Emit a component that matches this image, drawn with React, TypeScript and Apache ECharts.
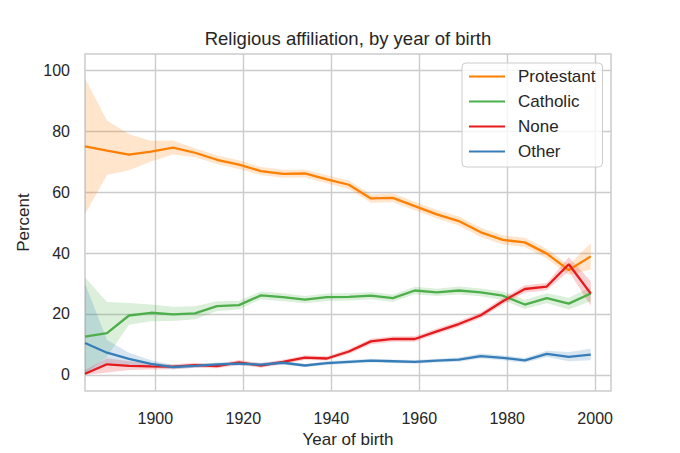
import { useEffect, useRef } from 'react'
import * as echarts from 'echarts'

const years = [1884, 1889, 1894, 1899, 1904, 1909, 1914, 1919, 1924, 1929, 1934, 1939, 1944, 1949, 1954, 1959, 1964, 1969, 1974, 1979, 1984, 1989, 1994, 1999]

const protestant = [75.0, 73.6, 72.3, 73.3, 74.6, 72.9, 70.6, 69.0, 66.9, 66.0, 66.1, 64.2, 62.4, 57.9, 58.1, 55.4, 52.7, 50.5, 46.8, 44.3, 43.5, 39.8, 34.4, 38.9]
const protestantLow = [52.7, 65.6, 67.2, 70.0, 72.3, 71.4, 69.2, 67.6, 65.6, 64.7, 64.8, 62.9, 61.0, 56.5, 56.7, 54.0, 51.3, 49.0, 45.3, 42.8, 42.0, 38.2, 32.8, 34.6]
const protestantHigh = [97.3, 83.5, 79.0, 76.8, 76.9, 74.4, 72.0, 70.4, 68.2, 67.3, 67.4, 65.5, 63.8, 59.3, 59.5, 56.8, 54.1, 52.0, 48.3, 45.8, 45.0, 41.4, 36.1, 43.2]

const catholic = [12.6, 13.7, 19.5, 20.4, 19.9, 20.2, 22.6, 22.9, 26.1, 25.5, 24.7, 25.5, 25.6, 26.0, 25.2, 27.7, 27.1, 27.7, 27.1, 26.0, 23.1, 25.2, 23.4, 26.7]
const catholicLow = [0.5, 6.0, 16.5, 17.6, 17.7, 18.3, 21.0, 21.5, 24.8, 24.2, 23.5, 24.3, 24.4, 24.8, 24.0, 26.5, 25.9, 26.4, 25.8, 24.6, 21.6, 23.5, 21.5, 24.2]
const catholicHigh = [32.0, 23.9, 23.6, 23.1, 22.4, 22.5, 24.2, 24.3, 27.4, 26.8, 25.9, 26.7, 26.8, 27.2, 26.4, 28.9, 28.3, 29.0, 28.4, 27.4, 24.7, 26.8, 25.3, 28.8]

const none = [0.4, 3.5, 3.0, 2.8, 2.7, 3.2, 2.9, 4.1, 3.1, 4.3, 5.7, 5.4, 7.7, 11.0, 11.8, 11.8, 14.3, 16.7, 19.6, 24.2, 28.2, 29.0, 36.3, 26.7]
const noneLow = [0.0, 0.8, 1.6, 1.8, 1.9, 2.4, 2.2, 3.3, 2.4, 3.6, 4.9, 4.7, 6.9, 10.1, 10.9, 10.9, 13.4, 15.8, 18.6, 23.1, 27.0, 27.8, 34.0, 22.7]
const noneHigh = [1.6, 5.5, 4.5, 3.8, 3.5, 4.0, 3.6, 4.9, 3.8, 5.0, 6.5, 6.1, 8.5, 11.9, 12.7, 12.7, 15.2, 17.6, 20.6, 25.3, 29.4, 30.2, 38.6, 30.7]

const other = [10.5, 7.3, 5.3, 3.6, 2.6, 3.0, 3.5, 3.7, 3.4, 4.0, 3.1, 3.9, 4.3, 4.7, 4.5, 4.3, 4.7, 5.0, 6.2, 5.6, 4.8, 6.9, 5.9, 6.7]
const otherLow = [0.0, 3.5, 3.2, 2.5, 1.9, 2.4, 2.9, 3.1, 2.8, 3.4, 2.6, 3.3, 3.7, 4.1, 3.9, 3.7, 4.1, 4.3, 5.4, 4.8, 4.0, 5.9, 4.5, 4.8]
const otherHigh = [30.0, 11.5, 7.3, 4.8, 3.3, 3.6, 4.1, 4.3, 4.0, 4.6, 3.6, 4.5, 4.9, 5.3, 5.1, 4.9, 5.3, 5.7, 7.0, 6.4, 5.6, 7.9, 7.5, 8.6]

const xTicks = [1900, 1920, 1940, 1960, 1980, 2000]
const yTicks = [0, 20, 40, 60, 80, 100]

const groups = [
  { name: 'Protestant', color: '#ff7f00', mid: protestant, low: protestantLow, high: protestantHigh },
  { name: 'Catholic', color: '#4daf4a', mid: catholic, low: catholicLow, high: catholicHigh },
  { name: 'None', color: '#e41a1c', mid: none, low: noneLow, high: noneHigh },
  { name: 'Other', color: '#377eb8', mid: other, low: otherLow, high: otherHigh },
]

const FONT = "'Liberation Sans', Arial, sans-serif"
const TEXT = '#262626'
const GRID = '#cccccc'

const App = () => {
  const chartRef = useRef<HTMLDivElement>(null)

  useEffect(() => {
    if (!chartRef.current) return
    const chart = echarts.init(chartRef.current, undefined, { renderer: 'svg' })

    const series: any[] = []
    // 置信区间带（多边形，坐标由坐标轴换算）
    groups.forEach((g) => {
      series.push({
        name: g.name + ' band',
        type: 'custom',
        silent: true,
        z: 1,
        data: [[years[0], g.mid[0]]],
        encode: { x: 0, y: 1 },
        renderItem: (_params: any, api: any) => {
          const upper = years.map((y, i) => api.coord([y, g.high[i]]))
          const lower = years.map((y, i) => api.coord([y, g.low[i]])).reverse()
          return {
            type: 'polygon',
            shape: { points: upper.concat(lower) },
            style: { fill: g.color, opacity: 0.2 },
          }
        },
      })
    })
    groups.forEach((g) => {
      series.push({
        name: g.name,
        type: 'line',
        symbol: 'none',
        color: g.color,
        lineStyle: { color: g.color, width: 2.3 },
        data: years.map((y, i) => [y, g.mid[i]]),
        z: 3,
      })
    })

    chart.setOption({
      animation: false,
      textStyle: { fontFamily: FONT },
      grid: { left: 85, right: 69, top: 54, bottom: 57, show: true, borderColor: GRID, borderWidth: 1.5 },
      graphic: [
        {
          type: 'text',
          x: 348,
          y: 29,
          style: {
            text: 'Religious affiliation, by year of birth',
            fontSize: 18.5,
            fontFamily: FONT,
            fill: TEXT,
            textAlign: 'center',
            textVerticalAlign: 'top',
          },
        },
      ],
      legend: {
        data: groups.map((g) => g.name),
        orient: 'vertical',
        left: 462,
        top: 63,
        padding: [5, 7, 7, 6],
        itemGap: 8,
        itemWidth: 36,
        itemHeight: 14,
        itemStyle: { opacity: 0 },
        lineStyle: { width: 2 },
        backgroundColor: 'rgba(255,255,255,0.8)',
        borderColor: GRID,
        borderWidth: 1,
        borderRadius: 4,
        textStyle: { fontSize: 17, color: TEXT, fontFamily: FONT, lineHeight: 17, padding: [0, 0, 0, 8] },
      },
      xAxis: {
        type: 'value',
        min: 1884,
        max: 2003.6,
        name: 'Year of birth',
        nameLocation: 'middle',
        nameGap: 38,
        nameTextStyle: { fontSize: 17, color: TEXT, fontFamily: FONT },
        axisLine: { show: false },
        axisTick: { show: false, customValues: xTicks },
        axisLabel: { customValues: xTicks, fontSize: 16, color: TEXT, margin: 19, formatter: (v: number) => String(v) },
        splitLine: { show: true, lineStyle: { color: GRID, width: 1.4 } },
      },
      yAxis: {
        type: 'value',
        min: -5.3,
        max: 105.3,
        name: 'Percent',
        nameLocation: 'middle',
        nameGap: 48,
        nameTextStyle: { fontSize: 17, color: TEXT, fontFamily: FONT },
        axisLine: { show: false },
        axisTick: { show: false, customValues: yTicks },
        axisLabel: { customValues: yTicks, fontSize: 16, color: TEXT, margin: 15, formatter: (v: number) => String(v) },
        splitLine: { show: true, lineStyle: { color: GRID, width: 1.4 } },
      },
      series,
    })

    return () => {
      chart.dispose()
    }
  }, [])

  return (
    <div
      ref={chartRef}
      style={{ position: 'fixed', left: 0, top: 0, width: 680, height: 453, background: '#fff' }}
    />
  )
}

export default App
